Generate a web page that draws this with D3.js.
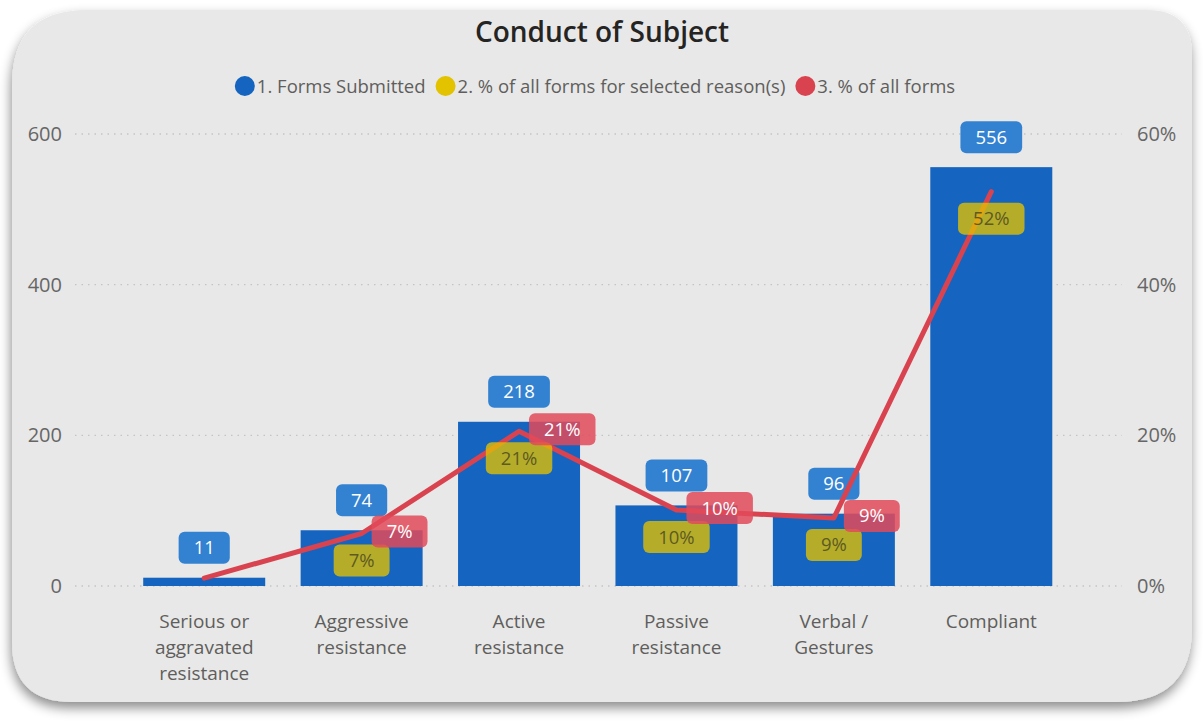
<!DOCTYPE html>
<html>
<head>
<meta charset="utf-8">
<script src="https://cdn.jsdelivr.net/npm/d3@7"></script>
<style>
  body { margin: 0; background: #ffffff; }
  svg { display: block; font-family: "Open Sans", "Noto Sans", sans-serif; }
</style>
</head>
<body>
<svg id="chart"></svg>
<script>
// chart data
const categories = ["Serious or aggravated resistance", "Aggressive resistance", "Active resistance",
    "Passive resistance", "Verbal / Gestures", "Compliant"];
const formsSubmitted = [11, 74, 218, 107, 96, 556];
const pctSelected = [0.0104, 0.0697, 0.2053, 0.1008, 0.0904, 0.5235];
const pctAll = [0.0104, 0.0697, 0.2053, 0.1008, 0.0904, 0.5235];
const leftTicks = [0, 200, 400, 600];
const rightTicks = [0, 0.2, 0.4, 0.6];
const legendLabels = ["1. Forms Submitted", "2. % of all forms for selected reason(s)", "3. % of all forms"];

const W = 1203, H = 727;
const colors = {bar: "#1565c0", blueLabel: "#3382d2", yellow: "#e3c200", red: "#d9434f", redLabel: "#e24a59"};

const svg = d3.select("#chart").attr("width", W).attr("height", H);

// panel with uneven rounded corners and soft shadow
const defs = svg.append("defs");
const shadow = defs.append("filter").attr("id", "shadow")
    .attr("x", "-5%").attr("y", "-5%").attr("width", "110%").attr("height", "115%");
shadow.append("feDropShadow").attr("dx", -1).attr("dy", 6).attr("stdDeviation", 6)
    .attr("flood-color", "#000").attr("flood-opacity", 0.45);

function roundedRect(x, y, w, h, r) {
    const [tl, tr, br, bl] = r;
    return `M${x + tl},${y} H${x + w - tr} Q${x + w},${y} ${x + w},${y + tr}
        V${y + h - br} Q${x + w},${y + h} ${x + w - br},${y + h}
        H${x + bl} Q${x},${y + h} ${x},${y + h - bl}
        V${y + tl} Q${x},${y} ${x + tl},${y} Z`;
}

svg.append("path")
    .attr("d", roundedRect(12, 10, 1180, 692, [75, 45, 75, 60]))
    .attr("fill", "#e8e8e8")
    .attr("filter", "url(#shadow)");

// title
svg.append("text")
    .attr("x", 602).attr("y", 42)
    .attr("text-anchor", "middle")
    .attr("font-size", 28).attr("font-weight", 600)
    .attr("fill", "#252423")
    .text("Conduct of Subject");

// legend
const legendColors = [colors.bar, colors.yellow, colors.red];
const legend = svg.append("g");
let lx = 0;
legendLabels.forEach((lab, i) => {
    const g = legend.append("g").attr("transform", `translate(${lx},0)`);
    g.append("circle").attr("cx", 10).attr("cy", 0).attr("r", 10).attr("fill", legendColors[i]);
    const t = g.append("text").attr("x", 22).attr("y", 7)
        .attr("font-size", 18.5).attr("fill", "#605e5c").text(lab);
    lx += 22 + t.node().getComputedTextLength() + 10;
});
legend.attr("transform", `translate(${600 - lx / 2},86)`);

// scales
const x = d3.scaleBand()
    .domain(categories)
    .range([125.5, 1070])
    .paddingInner(0.225)
    .paddingOuter(0.1125);

const yLeft = d3.scaleLinear().domain([0, 600]).range([586, 134]);
const yRight = d3.scaleLinear().domain([0, 0.6]).range([586, 134]);

// gridlines
svg.append("g").selectAll("line")
    .data(leftTicks)
    .join("line")
    .attr("x1", 75).attr("x2", 1122)
    .attr("y1", d => yLeft(d)).attr("y2", d => yLeft(d))
    .attr("stroke", "#c4c4c4")
    .attr("stroke-width", 1.3)
    .attr("stroke-dasharray", "1.5,5");

// left axis
const leftAxis = svg.append("g")
    .attr("transform", "translate(62,0)")
    .call(d3.axisLeft(yLeft).tickValues(leftTicks).tickSize(0).tickPadding(0));
leftAxis.select(".domain").remove();
leftAxis.selectAll("text")
    .attr("font-family", "Open Sans, sans-serif")
    .attr("font-size", 20).attr("fill", "#666");

// right axis
const rightAxis = svg.append("g")
    .attr("transform", "translate(1137,0)")
    .call(d3.axisRight(yRight).tickValues(rightTicks).tickSize(0).tickPadding(0)
        .tickFormat(d3.format(".0%")));
rightAxis.select(".domain").remove();
rightAxis.selectAll("text")
    .attr("font-family", "Open Sans, sans-serif")
    .attr("font-size", 20).attr("fill", "#666");

// category axis with wrapped labels
const xAxis = svg.append("g")
    .attr("transform", "translate(0,586)")
    .call(d3.axisBottom(x).tickSize(0).tickPadding(0));
xAxis.select(".domain").remove();
xAxis.selectAll("text")
    .attr("font-family", "Open Sans, sans-serif")
    .attr("font-size", 19).attr("fill", "#605e5c")
    .attr("y", 0).attr("dy", 0)
    .each(function(d) {
        const text = d3.select(this);
        const words = d.split(" ");
        text.text(null);
        let lines = [], cur = [];
        const probe = text.append("tspan");
        words.forEach(w => {
            const test = cur.concat(w).join(" ");
            probe.text(test);
            if (probe.node().getComputedTextLength() > 112 && cur.length) {
                lines.push(cur.join(" "));
                cur = [w];
            } else {
                cur.push(w);
            }
        });
        lines.push(cur.join(" "));
        probe.remove();
        lines.forEach((ln, i) => {
            text.append("tspan").attr("x", 0).attr("y", 42 + i * 26).text(ln);
        });
    });

const rows = categories.map((c, i) => ({cat: c, forms: formsSubmitted[i], sel: pctSelected[i], all: pctAll[i]}));

// bars
svg.append("g").selectAll("rect")
    .data(rows)
    .join("rect")
    .attr("x", d => x(d.cat))
    .attr("width", x.bandwidth())
    .attr("y", d => yLeft(d.forms))
    .attr("height", d => yLeft(0) - yLeft(d.forms))
    .attr("fill", colors.bar);

// label helper: box sized to text
function addLabel(g, text, cx, cy, fill, textFill, opacity, anchor) {
    const lg = g.append("g");
    const t = lg.append("text")
        .attr("font-size", 18.5)
        .attr("fill", textFill)
        .attr("text-anchor", "middle")
        .text(text);
    const tw = t.node().getComputedTextLength();
    const bw = tw + 30, bh = 32;
    const left = anchor === "start" ? cx : cx - bw / 2;
    lg.insert("rect", "text")
        .attr("x", left).attr("y", cy - bh / 2)
        .attr("width", bw).attr("height", bh)
        .attr("rx", 6)
        .attr("fill", fill)
        .attr("fill-opacity", opacity);
    t.attr("x", left + bw / 2).attr("y", cy + 6.5);
}

// blue labels above bars
const blueG = svg.append("g");
rows.forEach(d => {
    addLabel(blueG, d3.format("d")(d.forms), x(d.cat) + x.bandwidth() / 2,
        yLeft(d.forms) - 30, colors.blueLabel, "#ffffff", 1, "middle");
});

// line series
const line = d3.line()
    .x(d => x(d.cat) + x.bandwidth() / 2)
    .y(d => yRight(d.all));

svg.append("path")
    .datum(rows)
    .attr("d", line)
    .attr("fill", "none")
    .attr("stroke", colors.red)
    .attr("stroke-width", 5)
    .attr("stroke-linejoin", "round")
    .attr("stroke-linecap", "round");

// yellow labels (hidden series) below the points
const yellowG = svg.append("g");
rows.forEach((d, i) => {
    if (i === 0) return;
    addLabel(yellowG, d3.format(".0%")(d.sel), x(d.cat) + x.bandwidth() / 2,
        yRight(d.sel) + 27, colors.yellow, "#5e5a22", 0.78, "middle");
});

// red labels to the right of the points
const redG = svg.append("g");
rows.forEach((d, i) => {
    if (i === 0 || i === rows.length - 1) return;
    addLabel(redG, d3.format(".0%")(d.all), x(d.cat) + x.bandwidth() / 2 + 10,
        yRight(d.all) - 2, colors.redLabel, "#ffffff", 0.85, "start");
});
</script>
</body>
</html>
